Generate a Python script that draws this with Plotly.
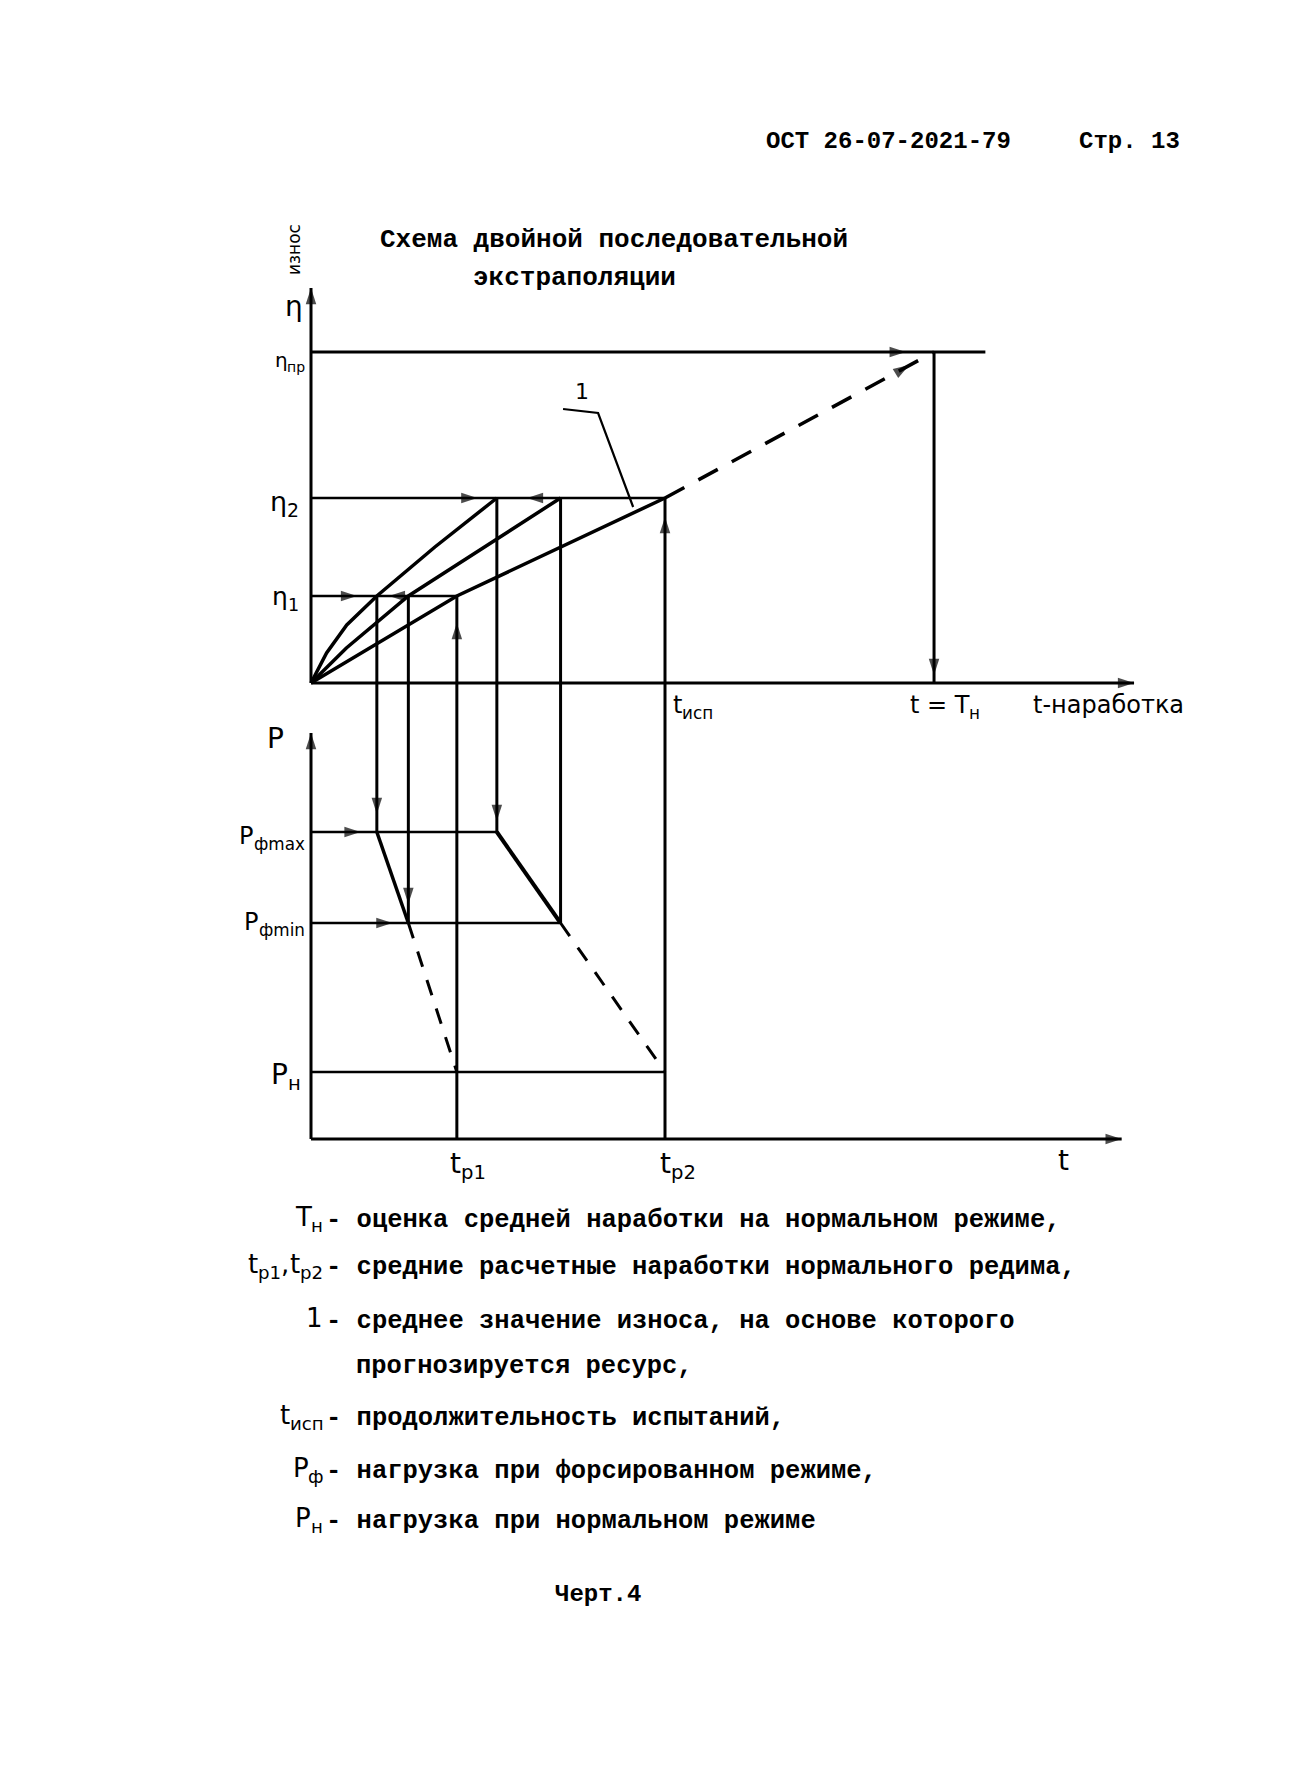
import plotly.graph_objects as go

# ---------------- data (schematic units) ----------------
# wear levels (eta)
eta_1 = 8.7
eta_2 = 18.5
eta_pr = 33.1
eta_axis_top = 39.5
# load levels (P)
P_n = 6.7
P_fmin = 21.6
P_fmax = 30.7
P_axis_top = 40.6
# operating times (t)
t_isp = 100.0
T_n = 176.0
t_p1 = 41.2
t_p2 = 100.0
t_a1, t_a2 = 18.6, 52.5      # steepest curve at eta_1, eta_2
t_b1, t_b2 = 27.5, 70.5      # middle curve at eta_1, eta_2
t_axis_end_upper = 232.5
t_axis_end_lower = 229.0
t_eta_pr_end = 190.5

# wear curves
curve_a_t = [0, 4.4, 10.1, t_a1, 35.0, t_a2]
curve_a_eta = [0, 3.0, 5.8, eta_1, 13.6, eta_2]
curve_b_t = [0, 10.0, t_b1, t_b2]
curve_b_eta = [0, 3.5, eta_1, eta_2]
curve_c_t = [0, t_p1, t_isp]
curve_c_eta = [0, eta_1, eta_2]
extrap_t = [t_isp, T_n]
extrap_eta = [eta_2, eta_pr]
leader_t = [71.2, 81.1, 91.0]
leader_eta = [27.4, 27.0, 17.6]

# ---------------- page geometry / scales ----------------
W, H = 1316, 1788
X0_PX, PX_T = 311, 3.54
YUP0_PX, PX_ETA = 683, 10.0
YLO0_PX, PX_P = 1139, 10.0
SPLIT_PX = 700

x_range = [-X0_PX / PX_T, (W - X0_PX) / PX_T]
up_range = [(YUP0_PX - SPLIT_PX) / PX_ETA, YUP0_PX / PX_ETA]
lo_range = [(YLO0_PX - H) / PX_P, (YLO0_PX - SPLIT_PX) / PX_P]
ETA_SPLIT = up_range[0]
P_SPLIT = lo_range[1]

BLACK = "#000000"
MONO = "Liberation Mono"
HAND = "DejaVu Sans"

fig = go.Figure()

# segments grouped by (panel, width, dash) -> one trace each
groups = {}


def seg(xs, ys, lower=False, width=3, dash="solid"):
    key = (lower, width, dash)
    gx, gy = groups.setdefault(key, ([], []))
    gx.extend(list(xs) + [None])
    gy.extend(list(ys) + [None])


# ---- upper panel: wear vs time ----
seg([0, 0], [0, eta_axis_top])
seg([0, t_axis_end_upper], [0, 0])
seg([0, t_eta_pr_end], [eta_pr, eta_pr])
seg([0, t_isp], [eta_2, eta_2], width=2.5)
seg([0, t_p1], [eta_1, eta_1], width=2.5)
seg(curve_a_t, curve_a_eta, width=3.5)
seg(curve_b_t, curve_b_eta, width=3.5)
seg(curve_c_t, curve_c_eta, width=3.5)
seg(extrap_t, extrap_eta, width=3.5, dash="22px,16px")
seg([T_n, T_n], [eta_pr, 0])
seg(leader_t, leader_eta, width=2.2)
for tv, ev in [(t_a1, eta_1), (t_b1, eta_1), (t_p1, eta_1),
               (t_a2, eta_2), (t_b2, eta_2), (t_isp, eta_2)]:
    seg([tv, tv], [ev, ETA_SPLIT])

# ---- lower panel: load vs time ----
seg([0, 0], [0, P_axis_top], lower=True)
seg([0, t_axis_end_lower], [0, 0], lower=True)
seg([0, t_a2], [P_fmax, P_fmax], lower=True, width=2.5)
seg([0, t_b2], [P_fmin, P_fmin], lower=True, width=2.5)
seg([0, t_p2], [P_n, P_n], lower=True, width=2.5)
for tv, pv in [(t_a1, P_fmax), (t_b1, P_fmin), (t_a2, P_fmax),
               (t_b2, P_fmin), (t_p1, 0), (t_p2, 0)]:
    seg([tv, tv], [P_SPLIT, pv], lower=True)
seg([t_a1, t_b1], [P_fmax, P_fmin], lower=True, width=3.5)
seg([t_b1, t_p1], [P_fmin, P_n], lower=True, width=3, dash="16px,14px")
seg([t_a2, t_b2], [P_fmax, P_fmin], lower=True, width=4)
seg([t_b2, t_p2], [P_fmin, P_n], lower=True, width=3, dash="16px,14px")

for (lower, width, dash), (gx, gy) in groups.items():
    fig.add_trace(go.Scatter(
        x=gx, y=gy, mode="lines", connectgaps=False,
        line=dict(color=BLACK, width=width, dash=dash),
        xaxis="x2" if lower else "x", yaxis="y2" if lower else "y",
        hoverinfo="skip", showlegend=False))

# ---- arrowheads: (head_t, head_y, tail_t, tail_y) ----
arrows_upper = [
    (0, eta_axis_top, 0, eta_axis_top - 3),
    (t_axis_end_upper, 0, t_axis_end_upper - 8, 0),
    (168, eta_pr, 160, eta_pr),
    (169, 31.8, 163, 30.5),
    (T_n, 0.8, T_n, 4.0),
    (47, eta_2, 40, eta_2),
    (61, eta_2, 68, eta_2),
    (13, eta_1, 7, eta_1),
    (22, eta_1, 26, eta_1),
    (t_isp, 16.6, t_isp, 13.5),
    (t_p1, 6.0, t_p1, 3.0),
]
arrows_lower = [
    (0, P_axis_top, 0, P_axis_top - 3),
    (t_axis_end_lower, 0, t_axis_end_lower - 8, 0),
    (t_a1, 32.5, t_a1, 36.5),
    (t_b1, 23.5, t_b1, 27.5),
    (t_a2, 31.8, t_a2, 36.0),
    (14, P_fmax, 8, P_fmax),
    (23, P_fmin, 17, P_fmin),
]
for lower, lst in [(False, arrows_upper), (True, arrows_lower)]:
    ax_, ay_, sz = [], [], []
    for hx, hy, tx, ty in lst:
        ax_ += [tx, hx]
        ay_ += [ty, hy]
        sz += [0, 17]
    fig.add_trace(go.Scatter(
        x=ax_, y=ay_, mode="markers",
        marker=dict(symbol="arrow", size=sz, angleref="previous",
                    color=BLACK, line=dict(width=0)),
        xaxis="x2" if lower else "x", yaxis="y2" if lower else "y",
        hoverinfo="skip", showlegend=False))

annotations = []


def txt(s, px, py, size, font=MONO, xanchor="center", angle=0, bold=False):
    if bold:
        s = "<b>" + s + "</b>"
    annotations.append(dict(
        text=s, x=px / W, y=1 - py / H, xref="paper", yref="paper",
        xanchor=xanchor, yanchor="middle", showarrow=False, textangle=angle,
        borderpad=0, font=dict(family=font, size=size, color=BLACK)))


# approximate DejaVu Sans advance widths (em)
CW = {"t": 0.392, "η": 0.635, "P": 0.603, "T": 0.611, "p": 0.635, "1": 0.636,
      "2": 0.636, ",": 0.318, " ": 0.318, "=": 0.838, "и": 0.635, "с": 0.55,
      "п": 0.635, "р": 0.635, "ф": 0.80, "m": 0.974, "a": 0.613, "x": 0.592,
      "i": 0.278, "n": 0.634, "н": 0.656}


def tw(s, size):
    return sum(CW.get(c, 0.62) for c in s) * size


def lab(parts, px, py, size, anchor="left"):
    """Label with subscripts: parts = [(text, is_sub), ...]."""
    total = sum(tw(t, size * 0.7 if sub else size) for t, sub in parts)
    x = px if anchor == "left" else (px - total if anchor == "right" else px - total / 2)
    for t, sub in parts:
        s = size * 0.7 if sub else size
        txt(t, x, py + (0.33 * size if sub else 0), s, font=HAND, xanchor="left")
        x += tw(t, s)


# header and title
txt("ОСТ 26-07-2021-79", 765, 142, 24, xanchor="left", bold=True)
txt("Стр. 13", 1078, 142, 24, xanchor="left", bold=True)
txt("Схема двойной последовательной", 379, 240, 26, xanchor="left", bold=True)
txt("экстраполяции", 472, 278, 26, xanchor="left", bold=True)

# axis labels (handwritten style)
txt("η", 294, 306, 28, font=HAND)
txt("износ", 294, 250, 17, font=HAND, angle=-90)
lab([("η", False), ("пр", True)], 304, 360, 20, anchor="right")
lab([("η", False), ("2", True)], 298, 501, 27, anchor="right")
lab([("η", False), ("1", True)], 298, 597, 25, anchor="right")
txt("1", 582, 392, 22, font=HAND)
lab([("t", False), ("исп", True)], 672, 705, 24)
lab([("t = T", False), ("н", True)], 944, 705, 24, anchor="center")
txt("t-наработка", 1032, 705, 24, font=HAND, xanchor="left")
txt("P", 275, 738, 28, font=HAND)
lab([("P", False), ("фmax", True)], 303, 836, 24, anchor="right")
lab([("P", False), ("фmin", True)], 303, 922, 24, anchor="right")
lab([("P", False), ("н", True)], 300, 1074, 28, anchor="right")
lab([("t", False), ("p1", True)], 467, 1163, 28, anchor="center")
lab([("t", False), ("p2", True)], 677, 1163, 28, anchor="center")
txt("t", 1063, 1160, 28, font=HAND)

# explanation block
leg_sym = [[("T", False), ("н", True)],
           [("t", False), ("p1", True), (",", False), ("t", False), ("p2", True)],
           [("1", False)],
           [],
           [("t", False), ("исп", True)],
           [("P", False), ("ф", True)],
           [("P", False), ("н", True)]]
leg_txt = ["- оценка средней наработки на нормальном режиме,",
           "- средние расчетные наработки нормального редима,",
           "- среднее значение износа, на основе которого",
           "прогнозируется ресурс,",
           "- продолжительность испытаний,",
           "- нагрузка при форсированном режиме,",
           "- нагрузка при нормальном режиме"]
leg_y = [1220, 1267, 1321, 1366, 1418, 1471, 1521]
for s, t, y in zip(leg_sym, leg_txt, leg_y):
    if s:
        lab(s, 322, y - 3, 26, anchor="right")
        txt(t, 325, y, 25.5, xanchor="left", bold=True)
    else:
        txt(t, 355, y, 25.5, xanchor="left", bold=True)
txt("Черт.4", 598, 1594, 24, bold=True)

fig.update_layout(
    width=W, height=H,
    margin=dict(l=0, r=0, t=0, b=0),
    paper_bgcolor="white", plot_bgcolor="white",
    showlegend=False,
    xaxis=dict(domain=[0, 1], range=x_range, visible=False, anchor="y"),
    yaxis=dict(domain=[(H - SPLIT_PX) / H, 1], range=up_range, visible=False, anchor="x"),
    xaxis2=dict(domain=[0, 1], range=x_range, visible=False, anchor="y2"),
    yaxis2=dict(domain=[0, (H - SPLIT_PX) / H], range=lo_range, visible=False, anchor="x2"),
    annotations=annotations,
)

fig.write_html("out.html", config={"displayModeBar": False},
               post_script="document.body.style.margin='0';")
